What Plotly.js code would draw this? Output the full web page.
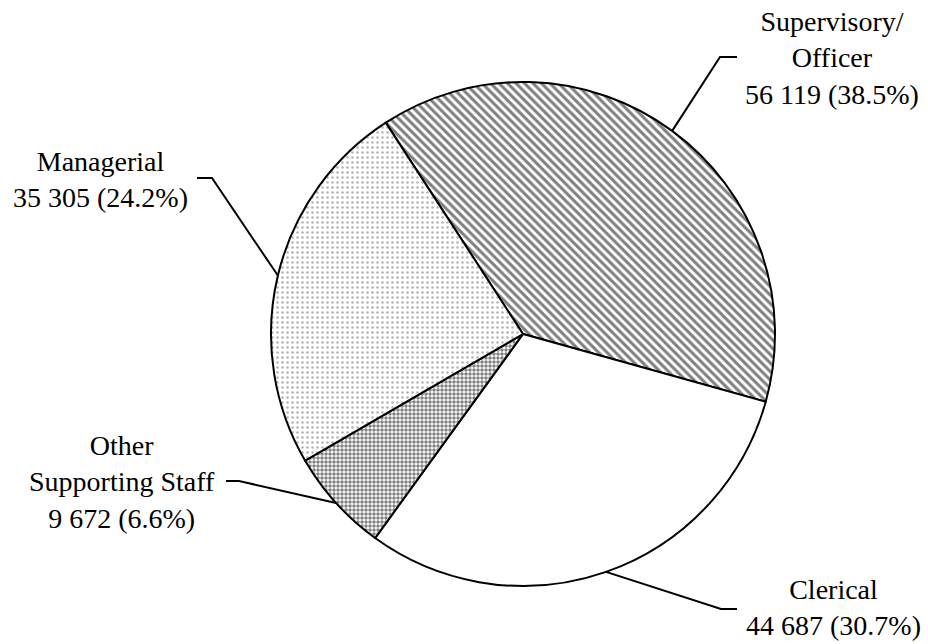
<!DOCTYPE html>
<html>
<head>
<meta charset="utf-8">
<script src="https://cdn.plot.ly/plotly-3.0.1.min.js"></script>
<style>html,body{margin:0;padding:0;background:#fff;}#chart{width:928px;height:644px;}</style>
</head>
<body>
<div id="chart"></div>
<script>
// Data
const categories = ["Supervisory/<br>Officer", "Clerical", "Other<br>Supporting Staff", "Managerial"];
const values = [56119, 44687, 9672, 35305];
const valueLabels = ["56 119", "44 687", "9 672", "35 305"];
const percentLabels = ["38.5%", "30.7%", "6.6%", "24.2%"];

// Layout constants (pixels)
const W = 928, H = 644;
const cx = 523, cy = 334, R = 252;
const rotationDeg = -33;
// label centres and elbow points for leader lines
const labelPos = [[832, 58], [833, 607], [122, 482], [100, 180]];
const elbows = [[[720, 57], [737, 57]], [[721, 609], [737, 609]], [[239, 481], [226, 481]], [[212, 178], [197, 178]]];

const px = x => x / W;
const py = y => 1 - y / H;

const total = values.reduce((a, b) => a + b, 0);
const shapes = [];
const annotations = [];
let cum = 0;
values.forEach((v, i) => {
  const mid = rotationDeg + (cum + v / 2) / total * 360;
  cum += v;
  const a = mid * Math.PI / 180;
  const ex = cx + R * Math.sin(a), ey = cy - R * Math.cos(a);
  const [e1, e2] = elbows[i];
  shapes.push({
    type: 'path', xref: 'paper', yref: 'paper',
    path: `M ${px(ex)},${py(ey)} L ${px(e1[0])},${py(e1[1])} L ${px(e2[0])},${py(e2[1])}`,
    line: {color: '#000', width: 2}
  });
  annotations.push({
    xref: 'paper', yref: 'paper', x: px(labelPos[i][0]), y: py(labelPos[i][1]),
    xanchor: 'center', yanchor: 'middle', align: 'center', showarrow: false,
    text: categories[i] + '<br>' + valueLabels[i] + ' (' + percentLabels[i] + ')',
    font: {family: 'Liberation Serif, Times New Roman, serif', size: 28, color: '#000'}
  });
});

const trace = {
  type: 'pie',
  values: values,
  labels: categories,
  sort: false,
  direction: 'clockwise',
  rotation: rotationDeg,
  textinfo: 'none',
  hoverinfo: 'none',
  showlegend: false,
  domain: {x: [px(cx - R), px(cx + R)], y: [py(cy + R), py(cy - R)]},
  marker: {
    colors: ['#ffffff', '#ffffff', '#ffffff', '#ffffff'],
    line: {color: '#000', width: 2},
    pattern: {
      shape: ['\\', '', '.', '.'],
      size: [6, 8, 4, 5],
      solidity: [0.5, 0.1, 0.6, 0.2],
      fgcolor: ['#000', '#fff', '#000', '#666'],
      bgcolor: ['#fff', '#fff', '#fff', '#fff'],
      fillmode: 'overlay'
    }
  }
};

const layout = {
  width: W, height: H,
  margin: {l: 0, r: 0, t: 0, b: 0},
  paper_bgcolor: '#fff', plot_bgcolor: '#fff',
  shapes: shapes,
  annotations: annotations
};

Plotly.newPlot('chart', [trace], layout, {displayModeBar: false, staticPlot: true});
</script>
</body>
</html>
